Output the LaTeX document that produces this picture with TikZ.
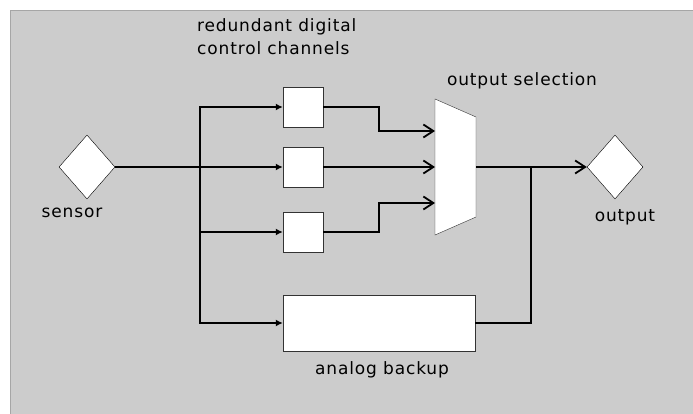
\documentclass[tikz,border=0pt]{standalone}
\usepackage{fontspec}
\setmainfont{DejaVu Sans}[LetterSpace=5]
\usetikzlibrary{shapes.geometric,arrows.meta}

\begin{document}
\begin{tikzpicture}[x=1pt, y=-1pt,
  port/.style={diamond, draw=black, fill=white, thin, inner sep=0pt,
    minimum width=56pt, minimum height=64pt},
  chan/.style={rectangle, draw=black!80, fill=white, thin, inner sep=0pt,
    minimum width=40pt, minimum height=40pt},
  caption/.style={font=\fontsize{17}{23}\selectfont, inner sep=0pt},
  wire/.style={draw=black, line width=1.8pt},
  feed/.style={wire, -{Latex[length=7pt,width=7pt]}},
  pick/.style={wire, line width=1.5pt, -{Straight Barb[length=10pt,width=13pt,line width=1.8pt]}}]

\useasboundingbox (0,0) rectangle (693,414);

% Panel
\filldraw[fill=gray!40, draw=gray!70, line width=1pt] (10,11) rectangle (700,420);


% Sensor and output ports
\node[port] (sensor) at (87,167) {};
\path 
(72,217) node[caption, anchor=base] (sensorlbl) {sensor};

\node[port] (output) at (615,167) {};
\path 
(625,222) node[caption, anchor=base] (outputlbl) {output};


% Redundant digital channels
\node[chan] (chan1) at (303,107) {};
\node[chan] (chan2) at (303,167) {};
\node[chan] (chan3) at (303,232) {};
\path 
(197,55) node[caption, anchor=base west, align=left] (chanlbl)
  {redundant digital\\control channels};


% Analog backup
\node[rectangle, draw=black!80, fill=white, thin, minimum width=192pt,
  minimum height=56pt, inner sep=0pt] (analog) at (379,323) {};
\path 
(382,374) node[caption, anchor=base] (analoglbl) {analog backup};


% Output selection (trapezoid)
\filldraw[fill=white, draw=black!80, thin]
  (435,99) -- (476,117) -- (476,217) -- (435,235) -- cycle;
\coordinate (selin1) at (435,131);
\coordinate (selin2) at (435,167);
\coordinate (selin3) at (435,203);
\coordinate (selout) at (476,167);
\path 
(522,86) node[caption, anchor=base] (sellbl) {output selection};


% Sensor fan-out
\coordinate (split) at (200,167);
\draw[wire] (sensor.east) -- (split);
\draw[feed] (split) -- (chan2.west);
\draw[feed] (split) |- (chan1.west);
\draw[feed] (split) |- (chan3.west);
\draw[feed] (split) |- (analog.west);

% Channels into the selector
\draw[pick] (chan1.east) -- ++(56,0) |- (selin1);
\draw[pick] (chan2.east) -- (selin2);
\draw[pick] (chan3.east) -- ++(56,0) |- (selin3);

% Selected and backup paths to the output
\coordinate (join) at (531,167);
\draw[wire, line width=1.3pt] (selout) -- (join);
\draw[pick, line width=1.8pt] (join) -- (output.west);
\draw[wire] (analog.east) -| (join);


\end{tikzpicture}
\end{document}
